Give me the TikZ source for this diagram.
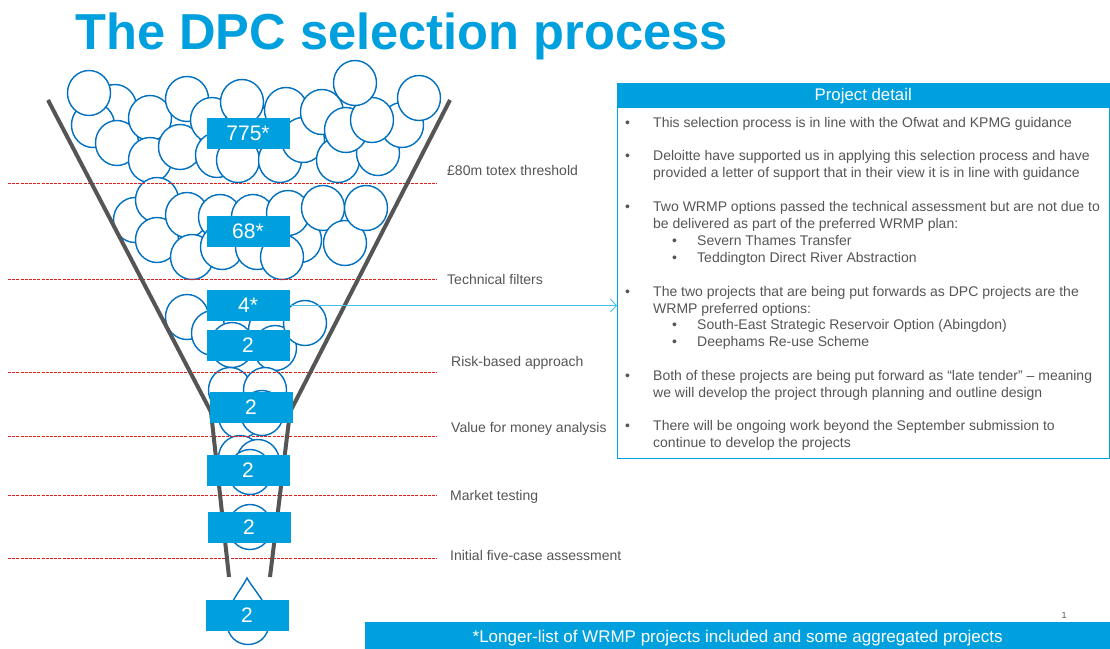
\documentclass[tikz,border=0pt]{standalone}
\usepackage{fontspec}
\setmainfont{Liberation Sans}
\usetikzlibrary{arrows.meta, positioning}

\definecolor{dpcblue}{RGB}{0,160,222}
\definecolor{ballblue}{RGB}{0,112,192}
\definecolor{cutred}{RGB}{225,30,30}
\definecolor{funnelgrey}{RGB}{85,85,85}
\definecolor{textgrey}{RGB}{85,85,85}

\begin{document}
\begin{tikzpicture}[
      x=1pt, y=-1pt,
      numbox/.style={rectangle, fill=dpcblue, text=white, minimum width=83pt, minimum height=31pt, inner sep=0pt, font=\fontsize{21}{21}\selectfont},
      ball/.style={draw=ballblue, fill=white, line width=1.4pt},
      cutline/.style={draw=cutred, line width=1pt, dash pattern=on 3pt off 1.2pt},
      funnel/.style={draw=funnelgrey, line width=4pt},
      stage/.style={anchor=base west, inner sep=0pt, text=textgrey, font=\fontsize{14}{16}\selectfont},
      detail/.style={anchor=base west, inner sep=0pt, text=textgrey, font=\fontsize{14}{16}\selectfont},
      pointer/.style={-{Straight Barb[length=6pt, width=13pt]}, draw=dpcblue!70, line width=0.9pt}
    ]
    \useasboundingbox (0,0) rectangle (1110,648);

    % Title
    \node[anchor=base west, inner sep=0pt, text=dpcblue, font=\fontsize{50.6}{50}\selectfont\bfseries] (title) at (75,49) {The DPC selection process};

    % Balls in the funnel
    \foreach \x/\y in {115/107, 93/125, 89/93, 117/143, 150/118, 150/160, 180/147, 187/99,
                       212/120, 247/122, 217/155, 242/102, 238/160, 286/110, 280/160, 303/140,
                       322/112, 338/160, 378/153, 402/125, 346/130, 372/120, 355/83, 419/98}
      \draw[ball] (\x,\y) ellipse [x radius=21.5, y radius=22.5];
    \foreach \x/\y in {135/220, 157/200, 157/240, 187/215, 192/257, 220/217, 222/247, 253/217,
                       257/247, 300/240, 282/257, 288/213, 323/208, 345/243, 366/208}
      \draw[ball] (\x,\y) ellipse [x radius=21.5, y radius=22.5];
    \foreach \x/\y in {187/317, 213/333, 245/318, 232/345, 270/330, 275/348, 305/323}
      \draw[ball] (\x,\y) ellipse [x radius=21.5, y radius=22.5];
    \foreach \x/\y in {230/390, 265/390, 240/416, 262/413}
      \draw[ball] (\x,\y) ellipse [x radius=21.5, y radius=22.5];
    \foreach \x/\y in {240/458, 258/462, 250/472}
      \draw[ball] (\x,\y) ellipse [x radius=21.5, y radius=22.5];
    \draw[ball] (250,527) ellipse [x radius=21.5, y radius=22.5];
    \draw[ball] (247,578) .. controls (240,592) and (227,604) .. (227,622)
      .. controls (227,652) and (269,652) .. (269,622)
      .. controls (269,604) and (255,592) .. (247,578) -- cycle;

    % Cut-off lines
    \foreach \y in {183, 279, 372, 436, 495, 558}
      \draw[cutline] (8,\y) -- (437,\y);

    % Funnel
    \draw[funnel] (48,100) -- (211,412) -- (229,577);
    \draw[funnel] (450,100) -- (290,412) -- (270,577);

    % Stage labels
    \node[stage] (threshold) at (447,175) {£80m totex threshold};
    \node[stage] (technical) at (447,284) {Technical filters};
    \node[stage] (risk) at (451,366) {Risk-based approach};
    \node[stage] (value) at (451,432) {Value for money analysis};
    \node[stage] (market) at (450,500) {Market testing};
    \node[stage] (fivecase) at (450,560) {Initial five-case assessment};

    % Project detail panel
    \node[draw=dpcblue, line width=1.2pt, anchor=north west, inner sep=0pt, minimum width=492pt, minimum height=375pt] (detail) at (617,83) {};
    \node[fill=dpcblue, anchor=north west, inner sep=0pt, minimum width=492pt, minimum height=25pt, text=white, font=\fontsize{16.8}{16}\selectfont] (head) at (617,83) {Project detail};
    \foreach \y in {127, 160, 211, 296, 380, 430}
      \node[detail] (dot\y) at (625,\y) {•};
    \foreach \y in {245, 262, 329, 346}
      \node[detail] (subdot\y) at (672,\y) {•};
    \foreach \y/\t in {127/{This selection process is in line with the Ofwat and KPMG guidance},
                       160/{Deloitte have supported us in applying this selection process and have},
                       177/{provided a letter of support that in their view it is in line with guidance},
                       211/{Two WRMP options passed the technical assessment but are not due to},
                       228/{be delivered as part of the preferred WRMP plan:},
                       296/{The two projects that are being put forwards as DPC projects are the},
                       313/{WRMP preferred options:},
                       380/{Both of these projects are being put forward as “late tender” – meaning},
                       397/{we will develop the project through planning and outline design},
                       430/{There will be ongoing work beyond the September submission to},
                       447/{continue to develop the projects}}
      \node[detail] (line\y) at (653,\y) {\t};
    \foreach \y/\t in {245/{Severn Thames Transfer},
                       262/{Teddington Direct River Abstraction},
                       329/{South-East Strategic Reservoir Option (Abingdon)},
                       346/{Deephams Re-use Scheme}}
      \node[detail] (sub\y) at (697,\y) {\t};

    % Count boxes
    \node[numbox] (n775) at (248,133.5) {775*};
    \node[numbox] (n68) at (248,231) {68*};
    \node[numbox] (n4) at (248,305.5) {4*};
    \node[numbox] (nrisk) at (248,345.5) {2};
    \node[numbox] (nvalue) at (251,407) {2};
    \node[numbox] (nmarket) at (248,470) {2};
    \node[numbox] (nfive) at (249,527) {2};
    \node[numbox] (nfinal) at (247,615) {2};

    % Pointer to the panel
    \draw[pointer] (n4.east) -- (n4.east -| detail.west);

    % Footnote and page number
    \node[fill=dpcblue, anchor=north west, inner sep=0pt, minimum width=745pt, minimum height=31pt, text=white, font=\fontsize{17}{17}\selectfont] (note) at (365,622) {*Longer-list of WRMP projects included and some aggregated projects};
    \node[inner sep=0pt, text=textgrey, font=\fontsize{9}{9}\selectfont] (page) at (1064,615) {1};

\end{tikzpicture}
\end{document}
